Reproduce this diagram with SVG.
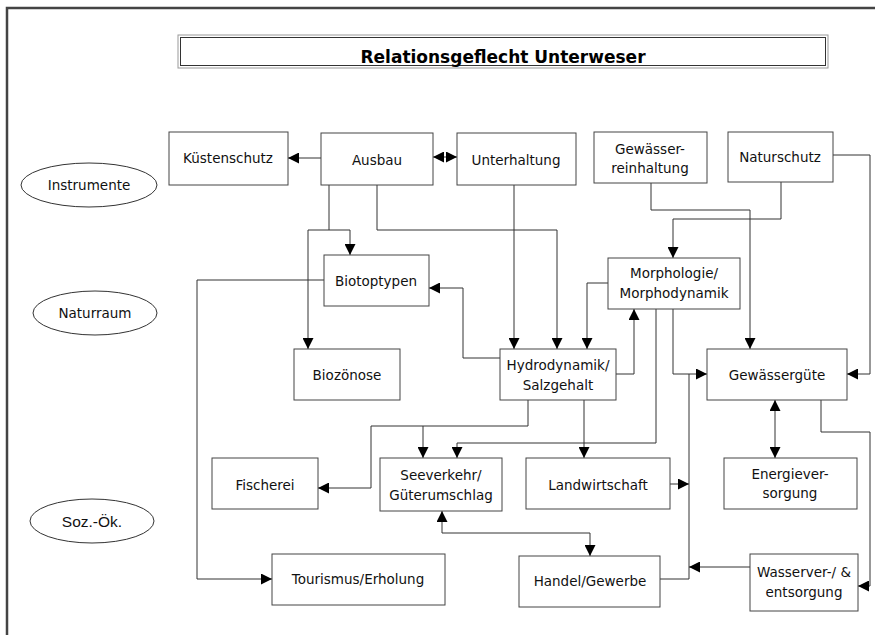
<svg xmlns="http://www.w3.org/2000/svg" width="875" height="635" viewBox="0 0 875 635">
<style>
.box{fill:#fff;stroke:#444;stroke-width:1}
.ell{fill:#fff;stroke:#333;stroke-width:1}
.t{font-family:"DejaVu Sans",Verdana,sans-serif;font-size:13.5px;fill:#111;text-anchor:middle}
.ta{font-family:"Liberation Sans",Arial,sans-serif;font-size:15.5px;fill:#111;text-anchor:middle}
.ln{fill:none;stroke:#333;stroke-width:1}
</style>
<defs>
<marker id="ah" viewBox="0 0 10 10" refX="10" refY="5" markerWidth="11" markerHeight="11" markerUnits="userSpaceOnUse" orient="auto-start-reverse">
<path d="M0,0 L10,5 L0,10 Z" fill="#000"/>
</marker>
</defs>
<rect width="875" height="635" fill="#fff"/>
<g id="frame">
<path d="M7,635 V8 H875" fill="none" stroke="#444" stroke-width="2.5"/>
</g>
<g id="title">
<rect x="178" y="35" width="650" height="33" fill="#fff" stroke="#999" stroke-width="1"/>
<rect x="180.5" y="37.5" width="645" height="28" fill="none" stroke="#333" stroke-width="1"/>
<text x="503" y="63" font-family="DejaVu Sans,Verdana,sans-serif" font-size="17px" font-weight="bold" text-anchor="middle" fill="#000">Relationsgeflecht Unterweser</text>
</g>
<g id="connectors">
<path class="ln" d="M321,158 H288" marker-end="url(#ah)"/>
<path class="ln" d="M433,157 H457" marker-start="url(#ah)" marker-end="url(#ah)"/>
<path class="ln" d="M329,185 V230"/>
<path class="ln" d="M308,230 H350 V255" marker-end="url(#ah)"/>
<path class="ln" d="M308,230 V349" marker-end="url(#ah)"/>
<path class="ln" d="M377,185 V230 H557 V349" marker-end="url(#ah)"/>
<path class="ln" d="M514,185 V349" marker-end="url(#ah)"/>
<path class="ln" d="M608,283 H587 V349" marker-end="url(#ah)"/>
<path class="ln" d="M500,358 H463 V288 H429" marker-end="url(#ah)"/>
<path class="ln" d="M616,374 H634 V309" marker-end="url(#ah)"/>
<path class="ln" d="M656,309 V443 H457 V458" marker-end="url(#ah)"/>
<path class="ln" d="M673,309 V374 H707" marker-end="url(#ah)"/>
<path class="ln" d="M660,579 H689 V374"/>
<path class="ln" d="M670,484 H689" marker-end="url(#ah)"/>
<path class="ln" d="M750,567 H689" marker-end="url(#ah)"/>
<path class="ln" d="M528,400 V426 H371 V488 H318" marker-end="url(#ah)"/>
<path class="ln" d="M423,426 V458" marker-end="url(#ah)"/>
<path class="ln" d="M584,400 V458" marker-end="url(#ah)"/>
<path class="ln" d="M442,511 V533 H590 V556" marker-start="url(#ah)" marker-end="url(#ah)"/>
<path class="ln" d="M775,400 V458" marker-start="url(#ah)" marker-end="url(#ah)"/>
<path class="ln" d="M821,400 V432 H870 V586 H858" marker-end="url(#ah)"/>
<path class="ln" d="M833,155 H870 V374 H847" marker-end="url(#ah)"/>
<path class="ln" d="M651,183 V210 H750 V349" marker-end="url(#ah)"/>
<path class="ln" d="M781,182 V219 H673 V258" marker-end="url(#ah)"/>
<path class="ln" d="M324,280 H197 V579 H272" marker-end="url(#ah)"/>
</g>
<g id="instrumente"><ellipse class="ell" cx="89" cy="185" rx="68" ry="22"/><text class="t" x="89" y="190">Instrumente</text></g>
<g id="naturraum"><ellipse class="ell" cx="95" cy="313" rx="62" ry="22"/><text class="t" x="95" y="318">Naturraum</text></g>
<g id="sozoek"><ellipse class="ell" cx="92" cy="521" rx="62" ry="22"/><text class="ta" x="92" y="527">Soz.-Ök.</text></g>
<g id="kuestenschutz"><rect class="box" x="169" y="132" width="119" height="53"/><text class="t" x="228" y="163">Küstenschutz</text></g>
<g id="ausbau"><rect class="box" x="321" y="133" width="112" height="52"/><text class="t" x="377" y="165">Ausbau</text></g>
<g id="unterhaltung"><rect class="box" x="457" y="133" width="119" height="52"/><text class="t" x="516" y="165">Unterhaltung</text></g>
<g id="gewaesserreinhaltung"><rect class="box" x="594" y="132" width="113" height="51"/><text class="t" x="650" y="154">Gewässer-</text><text class="t" x="650" y="173">reinhaltung</text></g>
<g id="naturschutz"><rect class="box" x="728" y="132" width="105" height="50"/><text class="t" x="780" y="162">Naturschutz</text></g>
<g id="biotoptypen"><rect class="box" x="324" y="255" width="105" height="51"/><text class="t" x="376" y="286">Biotoptypen</text></g>
<g id="morphologie"><rect class="box" x="608" y="258" width="132" height="51"/><text class="t" x="674" y="278">Morphologie/</text><text class="t" x="674" y="298">Morphodynamik</text></g>
<g id="biozoenose"><rect class="box" x="294" y="349" width="106" height="51"/><text class="t" x="347" y="380">Biozönose</text></g>
<g id="hydrodynamik"><rect class="box" x="500" y="349" width="116" height="51"/><text class="t" x="558" y="370">Hydrodynamik/</text><text class="t" x="558" y="390">Salzgehalt</text></g>
<g id="gewaesserguete"><rect class="box" x="707" y="349" width="140" height="51"/><text class="t" x="777" y="380">Gewässergüte</text></g>
<g id="fischerei"><rect class="box" x="212" y="458" width="106" height="51"/><text class="t" x="265" y="490">Fischerei</text></g>
<g id="seeverkehr"><rect class="box" x="380" y="458" width="122" height="53"/><text class="t" x="441" y="480">Seeverkehr/</text><text class="t" x="441" y="500">Güterumschlag</text></g>
<g id="landwirtschaft"><rect class="box" x="526" y="458" width="144" height="51"/><text class="t" x="598" y="490">Landwirtschaft</text></g>
<g id="energieversorgung"><rect class="box" x="724" y="458" width="133" height="51"/><text class="t" x="790" y="479">Energiever-</text><text class="t" x="790" y="498">sorgung</text></g>
<g id="tourismus"><rect class="box" x="272" y="554" width="173" height="51"/><text class="t" x="358" y="584">Tourismus/Erholung</text></g>
<g id="handel"><rect class="box" x="519" y="556" width="141" height="51"/><text class="t" x="590" y="586">Handel/Gewerbe</text></g>
<g id="wasserversorgung"><rect class="box" x="750" y="554" width="108" height="57"/><text class="t" x="804" y="577">Wasserver-/ &amp;</text><text class="t" x="804" y="597">entsorgung</text></g>
</svg>
